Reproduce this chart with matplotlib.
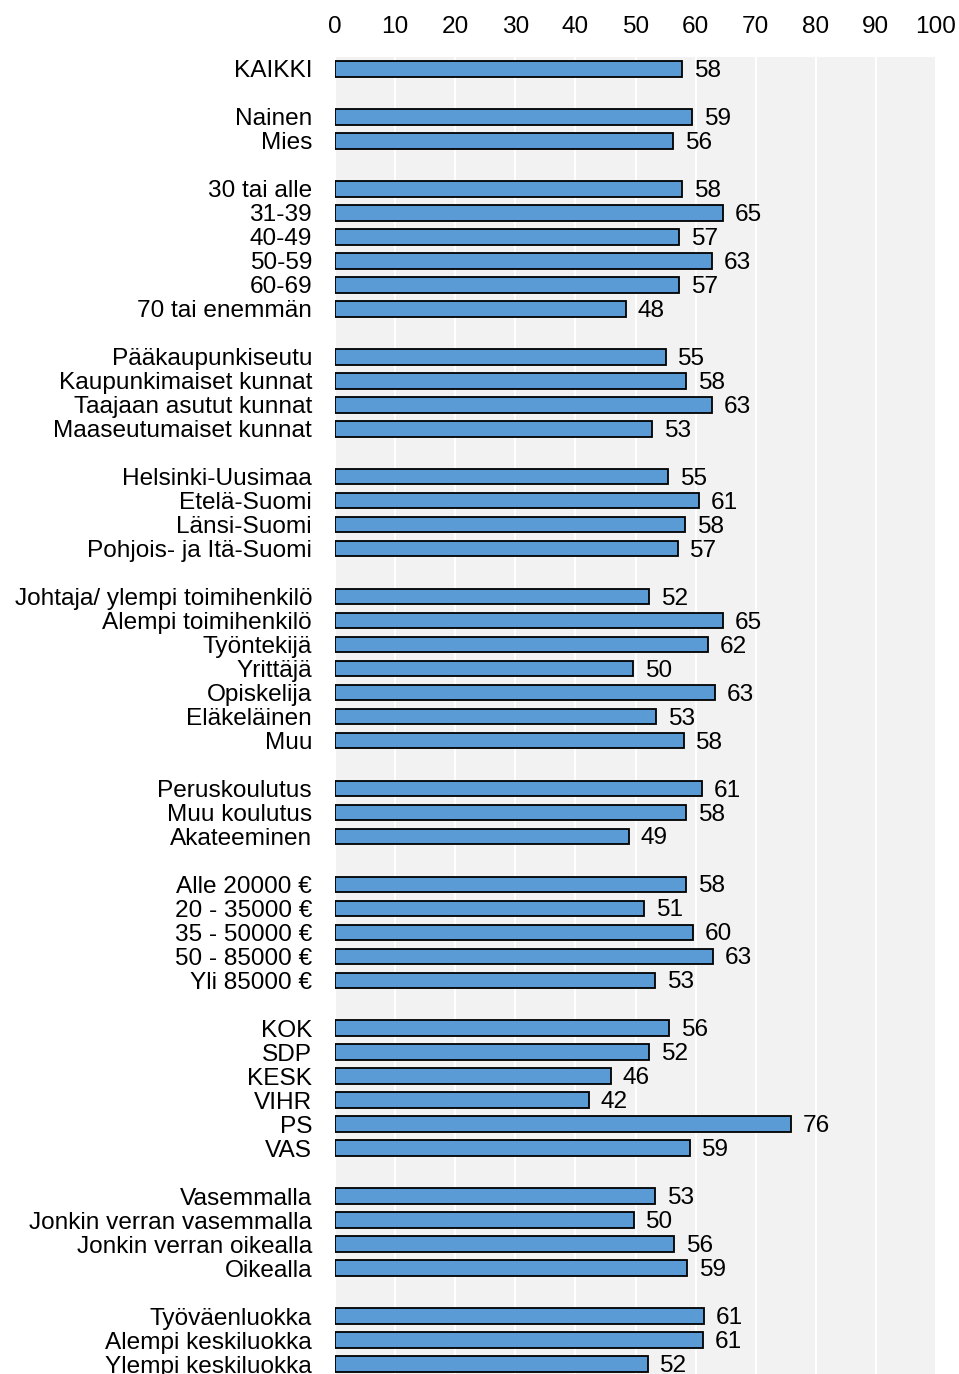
import matplotlib.pyplot as plt

plt.rcParams['font.family'] = ['Liberation Sans', 'DejaVu Sans']

# ryhmät ja palkkien arvot (%)
kaikki = ['KAIKKI']
kaikki_v = [57.7]

sukupuoli = ['Nainen', 'Mies']
sukupuoli_v = [59.4, 56.2]

ika = ['30 tai alle', '31-39', '40-49', '50-59', '60-69', '70 tai enemmän']
ika_v = [57.7, 64.6, 57.3, 62.8, 57.3, 48.4]

kuntatyyppi = ['Pääkaupunkiseutu', 'Kaupunkimaiset kunnat',
               'Taajaan asutut kunnat', 'Maaseutumaiset kunnat']
kuntatyyppi_v = [55.0, 58.4, 62.8, 52.8]

alue = ['Helsinki-Uusimaa', 'Etelä-Suomi', 'Länsi-Suomi', 'Pohjois- ja Itä-Suomi']
alue_v = [55.4, 60.6, 58.3, 57.0]

ammatti = ['Johtaja/ ylempi toimihenkilö', 'Alempi toimihenkilö', 'Työntekijä',
           'Yrittäjä', 'Opiskelija', 'Eläkeläinen', 'Muu']
ammatti_v = [52.3, 64.6, 62.1, 49.6, 63.3, 53.4, 58.0]

koulutus = ['Peruskoulutus', 'Muu koulutus', 'Akateeminen']
koulutus_v = [61.1, 58.4, 48.9]

tulot = ['Alle 20000 €', '20 - 35000 €', '35 - 50000 €', '50 - 85000 €', 'Yli 85000 €']
tulot_v = [58.4, 51.4, 59.6, 62.9, 53.3]

puolue = ['KOK', 'SDP', 'KESK', 'VIHR', 'PS', 'VAS']
puolue_v = [55.6, 52.3, 45.9, 42.2, 75.8, 59.0]

vasoik = ['Vasemmalla', 'Jonkin verran vasemmalla', 'Jonkin verran oikealla', 'Oikealla']
vasoik_v = [53.3, 49.7, 56.4, 58.6]

luokka = ['Työväenluokka', 'Alempi keskiluokka', 'Ylempi keskiluokka']
luokka_v = [61.4, 61.3, 52.0]

groups = [(kaikki, kaikki_v), (sukupuoli, sukupuoli_v), (ika, ika_v),
          (kuntatyyppi, kuntatyyppi_v), (alue, alue_v), (ammatti, ammatti_v),
          (koulutus, koulutus_v), (tulot, tulot_v), (puolue, puolue_v),
          (vasoik, vasoik_v), (luokka, luokka_v)]

labels, values, pos = [], [], []
row = 0
for names, vals in groups:
    for n, v in zip(names, vals):
        labels.append(n)
        values.append(v)
        pos.append(row)
        row += 1
    row += 1  # tyhjä rivi ryhmien väliin
nrows = row - 1

fs = 17.6
fig = plt.figure(figsize=(9.59, 13.74), dpi=100)
ax = fig.add_axes([335 / 959, -2 / 1374, 601 / 959, 1319 / 1374])
ax.set_facecolor('#F2F2F2')

ax.barh(pos, values, height=0.65, color='#5B9BD5', edgecolor='black', linewidth=1.3, zorder=3)

for p, v in zip(pos, values):
    ax.annotate(f'{v:.0f}', (v, p), xytext=(8.5, -1.5), textcoords='offset points',
                va='center', ha='left', fontsize=fs, color='black')

ax.set_xlim(0, 100)
ax.set_ylim(nrows - 0.5, -0.5)
ax.xaxis.tick_top()
ax.set_xticks(range(0, 101, 10))
ax.tick_params(axis='x', length=0, pad=14, labelsize=fs)
ax.set_yticks(pos)
ax.set_yticklabels(labels)
ax.tick_params(axis='y', length=0, pad=16.5, labelsize=fs)

ax.grid(axis='x', color='white', linewidth=1.5)
ax.set_axisbelow(True)
for s in ax.spines.values():
    s.set_visible(False)

fig.savefig('out.png', dpi=100)
